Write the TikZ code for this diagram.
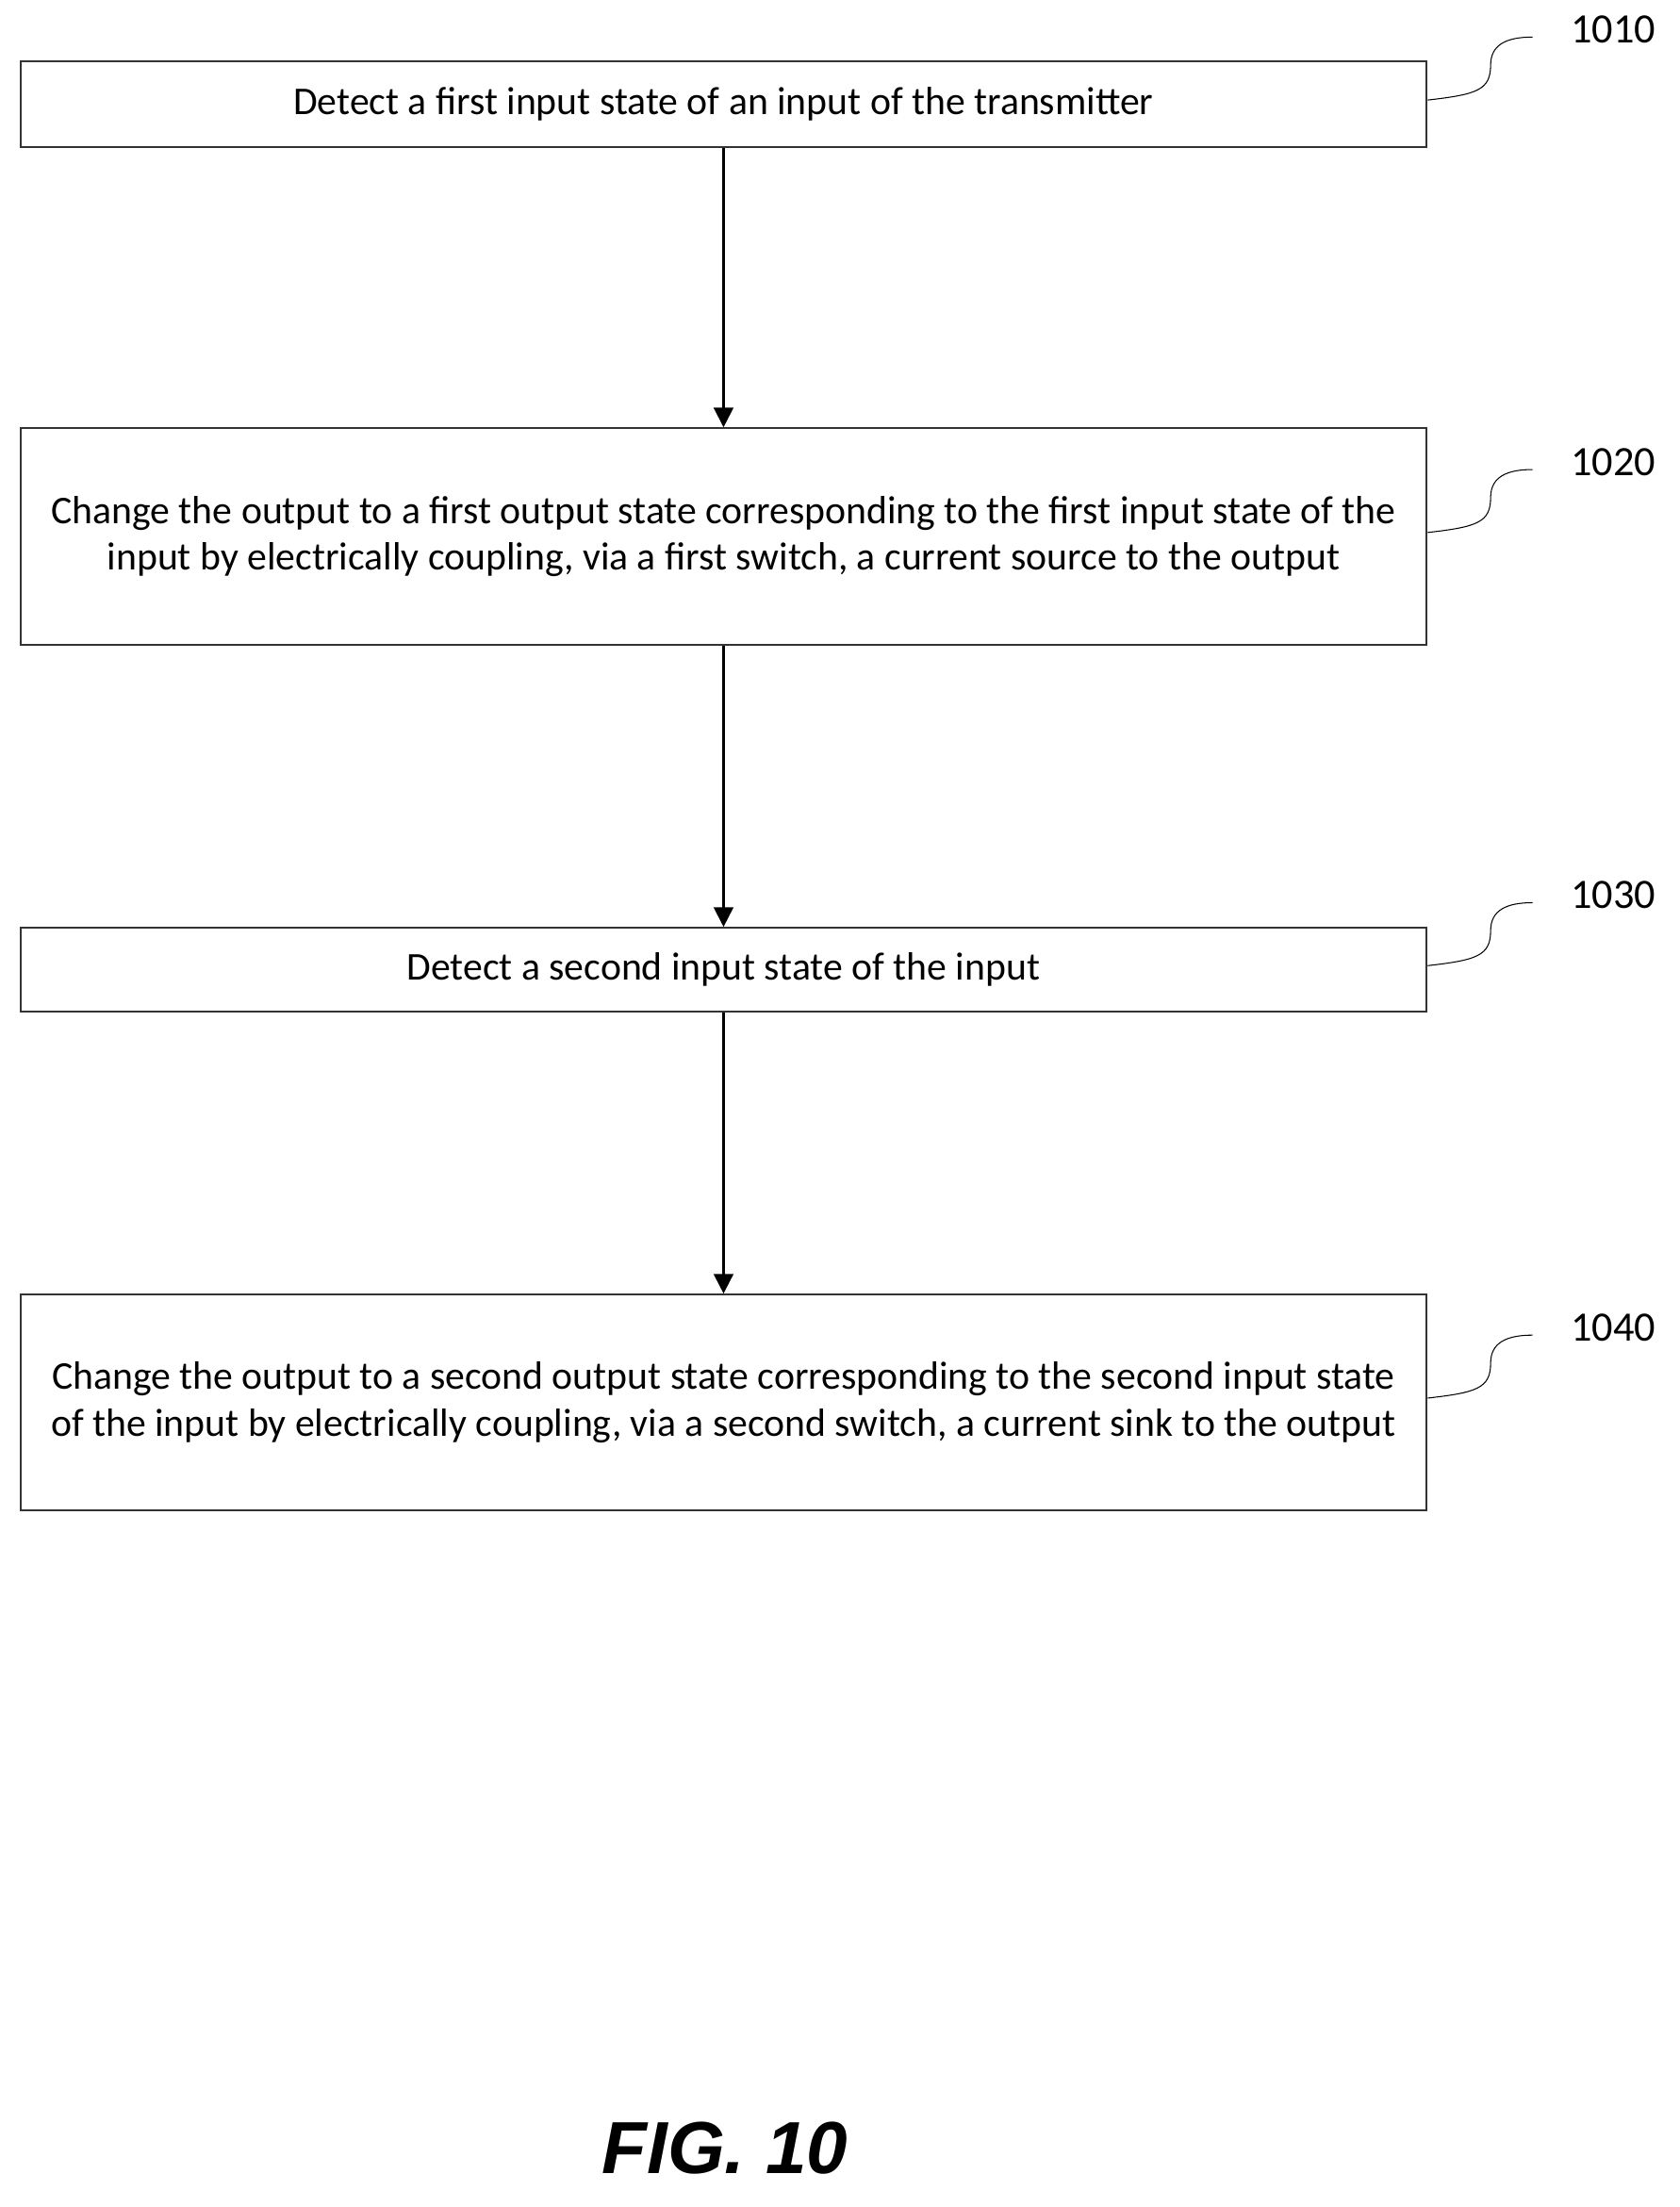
\documentclass[tikz,border=0pt]{standalone}
\usepackage{fontspec}
\setmainfont{Carlito}
\setsansfont{Liberation Sans}
\usetikzlibrary{arrows.meta,positioning}
\tikzset{
  stepbox/.style={draw=black!80, thick, minimum width=20.1cm, align=center, inner sep=0pt, font=\fontsize{16}{19}\selectfont},
  flow/.style={thick, -{Triangle[length=8pt,width=8pt]}},
  refno/.style={font=\fontsize{17}{19}\selectfont},
}
\begin{document}
\begin{tikzpicture}[x=0.02cm,y=-0.02cm]
			\useasboundingbox (0,0) rectangle (1200,1577);
			\node[stepbox, minimum height=1.22cm] (s1010) at (517,74.5) {Detect a first input state of an input of the transmitter};
			\node[stepbox, minimum height=3.1cm] (s1020) at (517,383.5) {Change the output to a first output state corresponding to the first input state of the\\input by electrically coupling, via a first switch, a current source to the output};
			\node[stepbox, minimum height=1.2cm] (s1030) at (517,693) {Detect a second input state of the input};
			\node[stepbox, minimum height=3.08cm] (s1040) at (517,1002) {Change the output to a second output state corresponding to the second input state\\of the input by electrically coupling, via a second switch, a current sink to the output};
			\draw[flow] (s1010) -- (s1020);
			\draw[flow] (s1020) -- (s1030);
			\draw[flow] (s1030) -- (s1040);
			% reference numbers
			\foreach \stp/\lab in {s1010/1010, s1020/1020, s1030/1030, s1040/1040} {
				\draw[thin] (\stp.east) ++(0,-3) .. controls +(35,-4) and +(0,18) .. ++(45,-25) .. controls +(0,-15) and +(-18,0) .. ++(30,-20) coordinate (c\lab);
				\node[refno, anchor=west] (n\lab) at ([xshift=12pt, yshift=3pt]c\lab) {\lab};
			}
			\node[font=\sffamily\bfseries\itshape\fontsize{30}{32}\selectfont] (fig) at (518,1535) {FIG. 10};
		\end{tikzpicture}
\end{document}
